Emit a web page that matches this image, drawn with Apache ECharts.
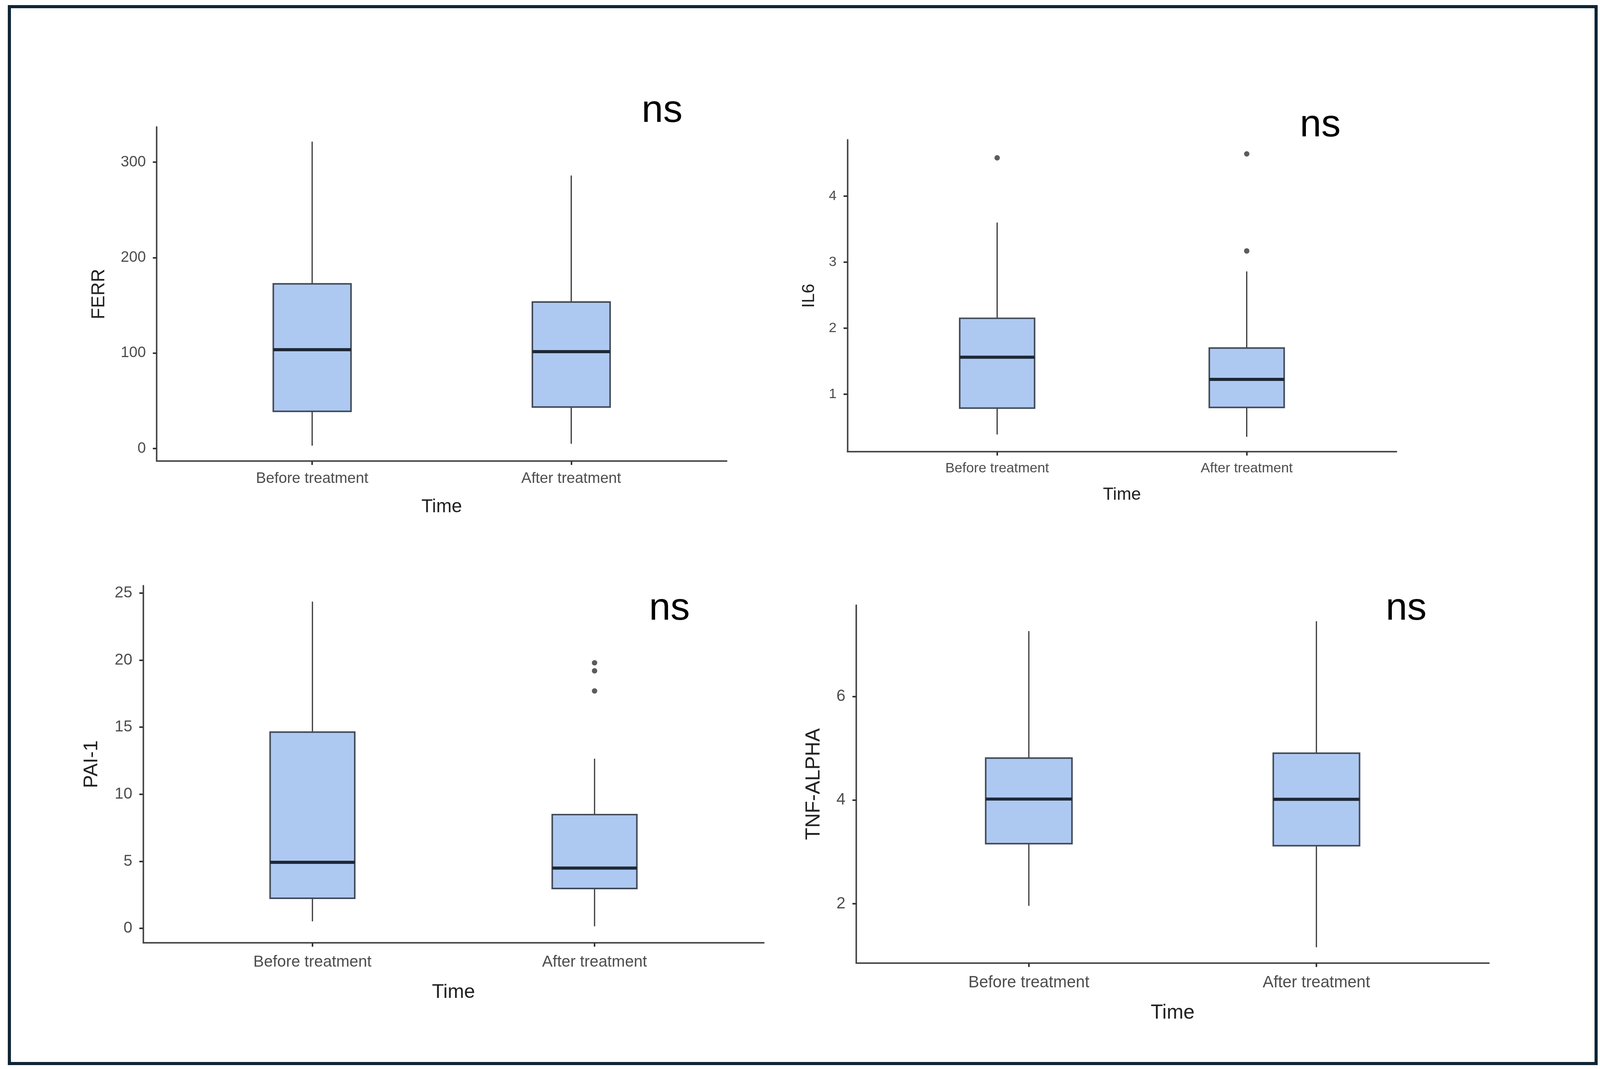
<!DOCTYPE html>
<html>
<head>
<meta charset="utf-8">
<script src="https://cdn.jsdelivr.net/npm/echarts@6/dist/echarts.min.js"></script>
<style>
  html, body { margin: 0; padding: 0; background: #fff; overflow: hidden; }
  #main { width: 100vw; height: 100vh; }
  #frame { position: absolute; box-sizing: border-box; pointer-events: none; border-style: solid; border-color: #0f2535; }
</style>
</head>
<body>
<div id="main"></div>
<div id="frame"></div>
<script>
// categories on the x axis (ggplot positions 1 and 2)
var categories = ['Before treatment', 'After treatment'];

// five-number summaries: [whisker low, Q1, median, Q3, whisker high]
var ferrBefore = [3, 39, 103.5, 172.5, 321.5];
var ferrAfter = [5, 43.5, 101.5, 153.5, 286];

var il6Before = [0.39, 0.79, 1.56, 2.15, 3.60];
var il6After = [0.355, 0.80, 1.225, 1.70, 2.86];
var il6OutBefore = [4.58];
var il6OutAfter = [4.64, 3.17];

var pai1Before = [0.52, 2.24, 4.92, 14.63, 24.36];
var pai1After = [0.15, 2.97, 4.49, 8.48, 12.65];
var pai1OutAfter = [19.8, 19.2, 17.7];

var tnfBefore = [1.96, 3.16, 4.02, 4.81, 7.26];
var tnfAfter = [1.16, 3.12, 4.015, 4.905, 7.45];

// tick labels
var ferrTicks = [0, 100, 200, 300];
var il6Ticks = [1, 2, 3, 4];
var pai1Ticks = [0, 5, 10, 15, 20, 25];
var tnfTicks = [2, 4, 6];

var FONT = 'Liberation Sans';
var BOX_WIDTH = 0.3;

// layout is designed on a 4135 x 2736 canvas and scaled to the real viewport
var kx = window.innerWidth / 4135;
var ky = window.innerHeight / 2736;
var k = Math.min(kx, ky);
function X(v) { return v * kx; }
function Y(v) { return v * ky; }
function F(v) { return v * k; }

var frame = document.getElementById('frame');
frame.style.left = X(20) + 'px';
frame.style.top = Y(13) + 'px';
frame.style.width = X(4109) + 'px';
frame.style.height = Y(2713) + 'px';
frame.style.borderWidth = F(9) + 'px';

function renderBox(params, api) {
  var x = api.value(0);
  var lo = api.coord([x, api.value(1)]);
  var q1 = api.coord([x, api.value(2)]);
  var med = api.coord([x, api.value(3)]);
  var q3 = api.coord([x, api.value(4)]);
  var hi = api.coord([x, api.value(5)]);
  var half = api.size([BOX_WIDTH, 0])[0] / 2;
  var whisker = { stroke: '#333', lineWidth: F(3) };
  return {
    type: 'group',
    children: [
      { type: 'line', shape: { x1: lo[0], y1: lo[1], x2: q1[0], y2: q1[1] }, style: whisker },
      { type: 'line', shape: { x1: q3[0], y1: q3[1], x2: hi[0], y2: hi[1] }, style: whisker },
      { type: 'rect', shape: { x: q3[0] - half, y: q3[1], width: half * 2, height: q1[1] - q3[1] },
        style: { fill: '#aec9f1', stroke: '#414a58', lineWidth: F(4) } },
      { type: 'line', shape: { x1: med[0] - half, y1: med[1], x2: med[0] + half, y2: med[1] },
        style: { stroke: '#1e2836', lineWidth: F(8) } }
    ]
  };
}

function outlierPoints(pos, values) {
  return values.map(function (v) { return [pos, v]; });
}

var panels = [
  { grid: [405, 325, 1473, 855], name: 'FERR',
    before: ferrBefore, after: ferrAfter, outBefore: [], outAfter: [],
    min: -13.1, max: 336.8, ticks: ferrTicks,
    tickSize: 39, titleSize: 48, labelMargin: 26, yGap: 124, xGap: 94 },
  { grid: [2190, 358, 1419, 798], name: 'IL6',
    before: il6Before, after: il6After, outBefore: il6OutBefore, outAfter: il6OutAfter,
    min: 0.13, max: 4.852, ticks: il6Ticks,
    tickSize: 36, titleSize: 45, labelMargin: 25, yGap: 76, xGap: 88 },
  { grid: [370, 1499, 1604, 914], name: 'PAI-1',
    before: pai1Before, after: pai1After, outBefore: [], outAfter: pai1OutAfter,
    min: -1.08, max: 25.55, ticks: pai1Ticks,
    tickSize: 41, titleSize: 51, labelMargin: 29, yGap: 107, xGap: 102 },
  { grid: [2213, 1549, 1635, 916], name: 'TNF-ALPHA',
    before: tnfBefore, after: tnfAfter, outBefore: [], outAfter: [],
    min: 0.855, max: 7.76, ticks: tnfTicks,
    tickSize: 42, titleSize: 52, labelMargin: 30, yGap: 83, xGap: 102 }
];

var grids = [], xAxes = [], yAxes = [], series = [];

panels.forEach(function (p, i) {
  grids.push({ left: X(p.grid[0]), top: Y(p.grid[1]), width: X(p.grid[2]), height: Y(p.grid[3]) });
  xAxes.push({
    type: 'value', gridIndex: i, min: 0.4, max: 2.6,
    name: 'Time', nameLocation: 'middle', nameGap: Y(p.xGap),
    nameTextStyle: { fontFamily: FONT, fontSize: F(p.titleSize), color: '#222' },
    axisLine: { show: true, onZero: false, lineStyle: { color: '#4a4a4a', width: F(4) } },
    axisTick: { show: true, length: F(10), customValues: [1, 2], lineStyle: { color: '#333', width: F(4) } },
    axisLabel: {
      customValues: [1, 2], margin: Y(p.labelMargin),
      fontFamily: FONT, fontSize: F(p.tickSize), color: '#4d4d4d',
      formatter: function (v) { return categories[Math.round(v) - 1]; }
    },
    splitLine: { show: false }
  });
  yAxes.push({
    type: 'value', gridIndex: i, min: p.min, max: p.max,
    name: p.name, nameLocation: 'middle', nameGap: X(p.yGap),
    nameTextStyle: { fontFamily: FONT, fontSize: F(p.titleSize), color: '#222' },
    axisLine: { show: true, onZero: false, lineStyle: { color: '#4a4a4a', width: F(4) } },
    axisTick: { show: true, length: F(10), customValues: p.ticks, lineStyle: { color: '#333', width: F(4) } },
    axisLabel: {
      customValues: p.ticks, margin: X(28),
      fontFamily: FONT, fontSize: F(p.tickSize), color: '#4d4d4d'
    },
    splitLine: { show: false }
  });
  series.push({
    type: 'custom', xAxisIndex: i, yAxisIndex: i,
    renderItem: renderBox,
    encode: { x: 0, y: [1, 2, 3, 4, 5] },
    data: [[1].concat(p.before), [2].concat(p.after)],
    silent: true
  });
  var pts = outlierPoints(1, p.outBefore).concat(outlierPoints(2, p.outAfter));
  if (pts.length) {
    series.push({
      type: 'scatter', xAxisIndex: i, yAxisIndex: i,
      symbol: 'circle', symbolSize: F(14),
      itemStyle: { color: '#333' },
      data: pts, silent: true
    });
  }
});

// "ns" significance labels (design-canvas positions)
var nsLabels = [[1711, 285], [3412, 322], [1730, 1559], [3634, 1559]];

var chart = echarts.init(document.getElementById('main'), null, { renderer: 'canvas' });
chart.setOption({
  backgroundColor: '#fff',
  animation: false,
  grid: grids,
  xAxis: xAxes,
  yAxis: yAxes,
  series: series,
  graphic: nsLabels.map(function (pos) {
    return {
      type: 'text', x: X(pos[0]), y: Y(pos[1]),
      style: { text: 'ns', fontFamily: FONT, fontSize: F(100), fill: '#000',
               textAlign: 'center', textVerticalAlign: 'middle' }
    };
  })
});
</script>
</body>
</html>
